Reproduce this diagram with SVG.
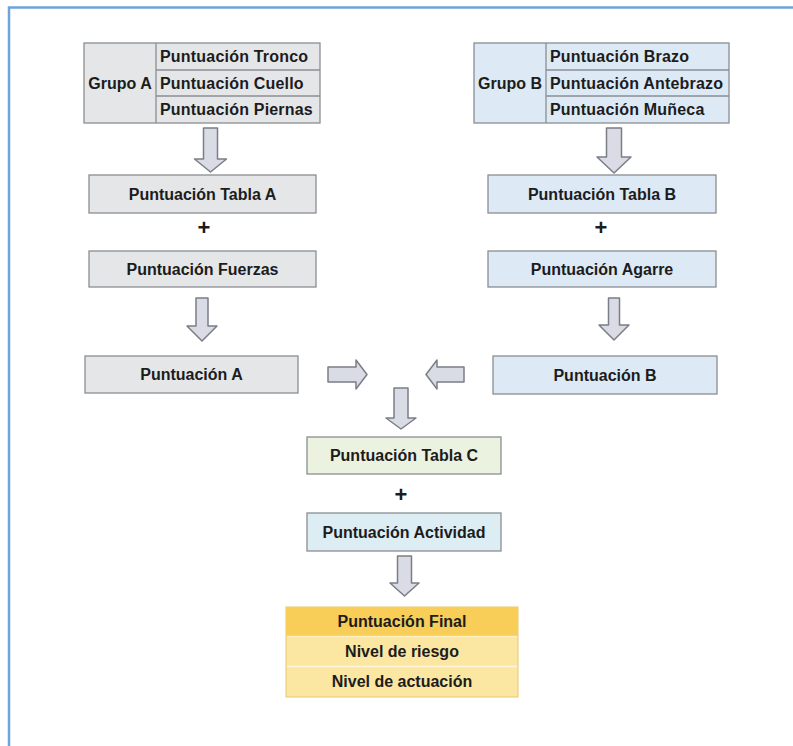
<svg xmlns="http://www.w3.org/2000/svg" width="793" height="746" viewBox="0 0 793 746">
<style>
text{font-family:"Liberation Sans",Arial,sans-serif;font-size:16px;font-weight:bold;fill:#1c1c1c;text-anchor:middle}
.l{text-anchor:start;letter-spacing:0.2px}
.b{stroke:#8a8e93;stroke-width:1.3}
.g{fill:#e5e6e8}
.bl{fill:#dde9f5}
.arr{fill:#d9dbe5;stroke:#7b7e86;stroke-width:1.5;stroke-linejoin:round}
.plus{font-size:22px}
</style>
<rect width="793" height="746" fill="#ffffff"/>
<path d="M9,746 V7.5 H793" fill="none" stroke="#6fa3dc" stroke-width="2.5"/>

<g id="grupoA">
<rect x="84" y="43" width="236" height="80" class="g b"/>
<line x1="156" y1="43" x2="156" y2="123" class="b"/>
<line x1="156" y1="70" x2="320" y2="70" class="b"/>
<line x1="156" y1="96" x2="320" y2="96" class="b"/>
<text x="120" y="88.5">Grupo A</text>
<text x="160" y="62" class="l">Puntuación Tronco</text>
<text x="160" y="89" class="l">Puntuación Cuello</text>
<text x="160" y="115" class="l">Puntuación Piernas</text>
</g>

<g id="grupoB">
<rect x="474" y="43" width="255" height="80" class="bl b"/>
<line x1="546" y1="43" x2="546" y2="123" class="b"/>
<line x1="546" y1="70" x2="729" y2="70" class="b"/>
<line x1="546" y1="96" x2="729" y2="96" class="b"/>
<text x="510" y="88.5">Grupo B</text>
<text x="550" y="62" class="l">Puntuación Brazo</text>
<text x="550" y="89" class="l">Puntuación Antebrazo</text>
<text x="550" y="115" class="l">Puntuación Muñeca</text>
</g>

<g id="tablaA">
<rect x="89" y="175" width="227" height="38" class="g b"/>
<text x="202.5" y="199.5">Puntuación Tabla A</text>
</g>
<text x="204" y="235" class="plus">+</text>
<g id="fuerzas">
<rect x="89" y="251" width="227" height="36" class="g b"/>
<text x="202.5" y="274.5">Puntuación Fuerzas</text>
</g>
<g id="puntA">
<rect x="85" y="356" width="213" height="37" class="g b"/>
<text x="191.5" y="380">Puntuación A</text>
</g>

<g id="tablaB">
<rect x="488" y="175" width="228" height="38" class="bl b"/>
<text x="602" y="199.5">Puntuación Tabla B</text>
</g>
<text x="601" y="235" class="plus">+</text>
<g id="agarre">
<rect x="488" y="251" width="228" height="36" class="bl b"/>
<text x="602" y="274.5">Puntuación Agarre</text>
</g>
<g id="puntB">
<rect x="493" y="356" width="224" height="38" class="bl b"/>
<text x="605" y="380.5">Puntuación B</text>
</g>

<g id="tablaC">
<rect x="307" y="437" width="194" height="37" fill="#ecf2e0" class="b"/>
<text x="404" y="461">Puntuación Tabla C</text>
</g>
<text x="401" y="502" class="plus">+</text>
<g id="actividad">
<rect x="307" y="513" width="194" height="38" fill="#dcedf4" class="b"/>
<text x="404" y="537.5">Puntuación Actividad</text>
</g>

<g id="final">
<rect x="286" y="607" width="232" height="90" fill="#fbe6a2" stroke="#e8c870" stroke-width="1"/>
<rect x="286" y="607" width="232" height="29.5" fill="#f8cd58"/>
<line x1="287" y1="666.5" x2="517" y2="666.5" stroke="#fff6dc" stroke-width="1.5"/>
<line x1="287" y1="636.5" x2="517" y2="636.5" stroke="#fff0c4" stroke-width="1.5"/>
<text x="402" y="627">Puntuación Final</text>
<text x="402" y="657">Nivel de riesgo</text>
<text x="402" y="687">Nivel de actuación</text>
</g>

<g id="connectors">
<polygon class="arr" points="203.5,128 217.5,128 217.5,159 226.5,159 210.5,172 194.5,159 203.5,159"/>
<polygon class="arr" points="196,298 208,298 208,326 217,326 202,341 187,326 196,326"/>
<polygon class="arr" points="606.5,128 621.5,128 621.5,157 631,157 614,173 597,157 606.5,157"/>
<polygon class="arr" points="608.5,298 619.5,298 619.5,325 629,325 614,340 599,325 608.5,325"/>
<polygon class="arr" points="328,367 356,367 356,360 367,374.5 356,389 356,382 328,382"/>
<polygon class="arr" points="464,367 437,367 437,360 426,374.5 437,389 437,382 464,382"/>
<polygon class="arr" points="394,388 408,388 408,418 416,418 401,429 386,418 394,418"/>
<polygon class="arr" points="397.5,556 411.5,556 411.5,583 419,583 404.5,596 390,583 397.5,583"/>
</g>
</svg>
